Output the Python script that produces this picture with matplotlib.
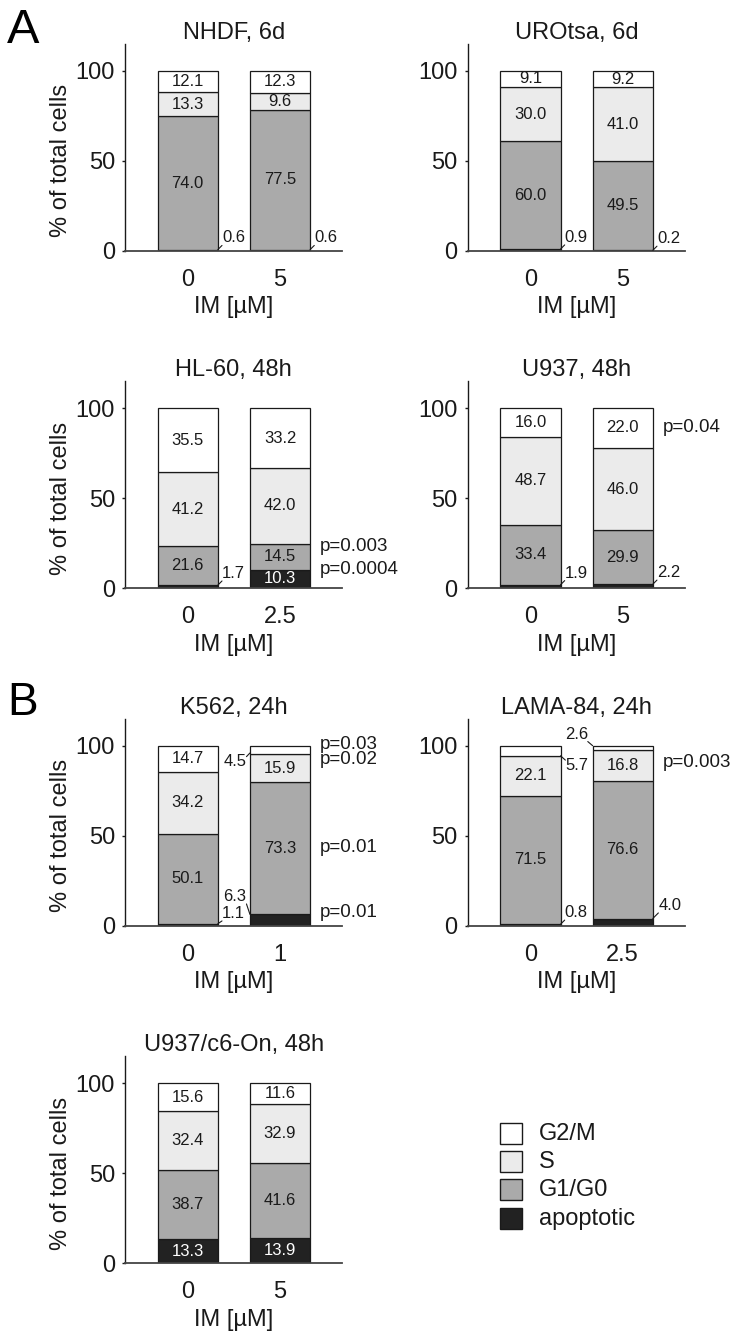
import matplotlib
matplotlib.use('Agg')
import matplotlib.pyplot as plt
from matplotlib.patches import Rectangle

plt.rcParams['font.family'] = ['Liberation Sans', 'DejaVu Sans']

# ---------------- data ----------------
titles = ["NHDF, 6d", "UROtsa, 6d", "HL-60, 48h", "U937, 48h",
          "K562, 24h", "LAMA-84, 24h", "U937/c6-On, 48h"]
doses = [["0", "5"], ["0", "5"], ["0", "2.5"], ["0", "5"],
         ["0", "1"], ["0", "2.5"], ["0", "5"]]
phase_names = ["apoptotic", "G1/G0", "S", "G2/M"]
apoptotic = [[0.6, 0.6], [0.9, 0.2], [1.7, 10.3], [1.9, 2.2], [1.1, 6.3], [0.8, 4.0], [13.3, 13.9]]
g1_g0 = [[74.0, 77.5], [60.0, 49.5], [21.6, 14.5], [33.4, 29.9], [50.1, 73.3], [71.5, 76.6], [38.7, 41.6]]
s_phase = [[13.3, 9.6], [30.0, 41.0], [41.2, 42.0], [48.7, 46.0], [34.2, 15.9], [22.1, 16.8], [32.4, 32.9]]
g2_m = [[12.1, 12.3], [9.1, 9.2], [35.5, 33.2], [16.0, 22.0], [14.7, 4.5], [5.7, 2.6], [15.6, 11.6]]
yticks = [0, 50, 100]

p_panel = [2, 2, 3, 4, 4, 4, 4, 5]
p_text = ["p=0.003", "p=0.0004", "p=0.04", "p=0.03", "p=0.02", "p=0.01", "p=0.01", "p=0.003"]
p_y = [23.0, 10.5, 89.4, 100.5, 92.3, 43.3, 7.2, 90.5]

# ---------------- style ----------------
colors = ["#222222", "#aaaaaa", "#ebebeb", "#ffffff"]
text_colors = ["white", "#1a1a1a", "#1a1a1a", "#1a1a1a"]
edge = "#1a1a1a"

# callouts (labels outside of bars): key (panel, bar, phase)
# value: (side, fraction within segment, offset pts, relpos, ha, va)
std = ('R', 1.0, (3, 3), (0, 0), 'left', 'bottom')
callouts = {
    (0, 0, 0): std, (0, 1, 0): std,
    (1, 0, 0): std, (1, 1, 0): std,
    (2, 0, 0): std,
    (3, 0, 0): std, (3, 1, 0): std,
    (4, 0, 0): ('R', 1.0, (3, 2), (0, 0), 'left', 'bottom'),
    (4, 1, 0): ('L', 1.0, (-2.5, 7.5), (1, 0), 'right', 'bottom'),
    (4, 1, 3): ('L', 0.1, (-2.5, -1), (1, 0.85), 'right', 'top'),
    (5, 0, 0): std,
    (5, 1, 0): ('R', 1.0, (4, 4), (0, 0), 'left', 'bottom'),
    (5, 0, 3): ('R', 0.0, (3.5, -1.5), (0, 0.85), 'left', 'top'),
    (5, 1, 3): ('L', 1.0, (-3.5, 3), (1, 0), 'right', 'bottom'),
}

W, H = 743, 1339
fig = plt.figure(figsize=(W / 100, H / 100), dpi=100)

col_left = [125, 467.7]
ax_w = 217.3
row_bottom = [250.7, 588.2, 925.7, 1263.2]
ax_h = 207.0
bar_w = 0.652
FS = 17

for i, title in enumerate(titles):
    r, c = divmod(i, 2)
    ax = fig.add_axes([col_left[c] / W, 1 - row_bottom[r] / H, ax_w / W, ax_h / H])
    x = [0, 1]
    segs = [apoptotic[i], g1_g0[i], s_phase[i], g2_m[i]]
    bottom = [0.0, 0.0]
    for k, vals in enumerate(segs):
        ax.bar(x, vals, bar_w, bottom=bottom, color=colors[k], edgecolor=edge,
               linewidth=0.9, zorder=2)
        for b in range(2):
            v = vals[b]
            y0 = bottom[b]
            key = (i, b, k)
            if key in callouts:
                side, frac, off, relpos, ha, va = callouts[key]
                xe = x[b] + (bar_w / 2 if side == 'R' else -bar_w / 2)
                ax.annotate(f"{v:.1f}", xy=(xe, y0 + frac * v), xytext=off,
                            textcoords='offset points', ha=ha, va=va,
                            fontsize=12, color="#1a1a1a",
                            arrowprops=dict(arrowstyle='-', lw=0.8, color="#1a1a1a",
                                            relpos=relpos, shrinkA=0, shrinkB=0,
                                            patchA=None),
                            annotation_clip=False, zorder=4)
            else:
                ax.text(x[b], y0 + v / 2, f"{v:.1f}", ha='center', va='center',
                        fontsize=12, color=text_colors[k], zorder=3)
        bottom = [bottom[b] + vals[b] for b in range(2)]

    for j, pn in enumerate(p_panel):
        if pn == i:
            ax.annotate(p_text[j], xy=(1 + bar_w / 2, p_y[j]), xytext=(7, 0),
                        textcoords='offset points', ha='left', va='center',
                        fontsize=13.5, color="#1a1a1a", annotation_clip=False)

    ax.set_xlim(-0.68, 1.675)
    ax.set_ylim(0, 115)
    ax.set_xticks(x)
    ax.set_xticklabels(doses[i])
    ax.set_yticks(yticks)
    ax.tick_params(axis='x', length=0, pad=13, labelsize=FS, colors="#1a1a1a")
    ax.tick_params(axis='y', length=2, width=1, direction='out', pad=5.2,
                   labelsize=FS, colors="#1a1a1a")
    for s in ['top', 'right']:
        ax.spines[s].set_visible(False)
    ax.spines['left'].set_linewidth(1.0)
    ax.spines['left'].set_color("#1a1a1a")
    ax.spines['bottom'].set_linewidth(1.3)
    ax.spines['bottom'].set_color("#444444")
    ax.set_title(title, fontsize=FS, pad=1, color="#1a1a1a")
    ax.set_xlabel("IM [µM]", fontsize=FS, labelpad=4, color="#1a1a1a")
    if c == 0:
        ax.set_ylabel("% of total cells", fontsize=FS, color="#1a1a1a")
        ax.yaxis.set_label_coords(-0.245, 50 / 115)

# panel letters
fig.text(7 / W, 1 - 42.7 / H, "A", fontsize=35, va='baseline', ha='left')
fig.text(7 / W, 1 - 715 / H, "B", fontsize=33, va='baseline', ha='left')

# legend (manual)
leg_names = ["G2/M", "S", "G1/G0", "apoptotic"]
leg_colors = ["#ffffff", "#ebebeb", "#aaaaaa", "#222222"]
leg_tops = [1123, 1151, 1179, 1208]
for name, col, top in zip(leg_names, leg_colors, leg_tops):
    fig.add_artist(Rectangle((500 / W, 1 - (top + 21) / H), 22 / W, 21 / H,
                             transform=fig.transFigure, facecolor=col,
                             edgecolor=edge, linewidth=1.0))
    fig.text(539 / W, 1 - (top + 10.5) / H, name, fontsize=17, va='center',
             ha='left', color="#1a1a1a")

fig.savefig("out.png", dpi=100)
